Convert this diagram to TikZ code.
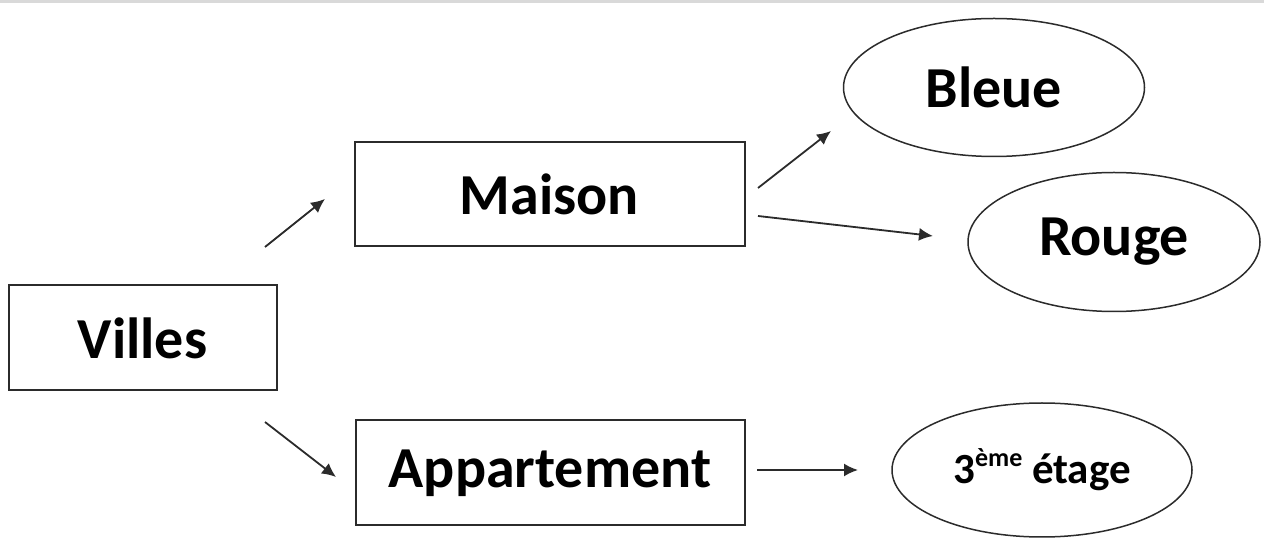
\documentclass[tikz,border=0pt]{standalone}
\usepackage{fontspec}
\setmainfont{Carlito}
\usepackage{tikz}
\usetikzlibrary{arrows.meta,positioning,shapes.geometric}
\usepackage{xcolor}
\definecolor{edge}{HTML}{2B2B2B}
\definecolor{rule}{HTML}{D9D9D9}

\begin{document}
\begin{tikzpicture}[
  x=0.5pt, y=-0.5pt,
  box/.style={draw=edge, line width=1pt, inner sep=0pt, font=\fontsize{29}{34}\selectfont\bfseries},
  oval/.style={ellipse, draw=edge, line width=0.75pt, inner sep=0pt, font=\fontsize{29}{34}\selectfont\bfseries},
  arrow/.style={-{Latex[length=7pt,width=6.5pt]}, line width=0.9pt, draw=edge}
]
\useasboundingbox (0,0) rectangle (1264,539);
\draw[rule, line width=1.5pt] (0,1.5) -- (1264,1.5);

\node[box, minimum width=134pt, minimum height=52.5pt] (villes) at (142.5,338) {Villes};
\node[box, minimum width=195pt, minimum height=52pt] (maison) at (549.5,194.5) {Maison};
\node[box, minimum width=194.5pt, minimum height=52.5pt] (appart) at (550,473) {Appartement};
\node[oval, minimum width=150.5pt, minimum height=69pt] (bleue) at (994,87.5) {Bleue};
\node[oval, minimum width=146pt, minimum height=69.5pt] (rouge) at (1114,242) {Rouge};
\node[oval, minimum width=150pt, minimum height=67pt, font=\fontsize{21.5}{26}\selectfont\bfseries] (etage) at (1042,470) {3\raisebox{0.8ex}{\fontsize{13}{15}\selectfont ème} étage};

% free arrow ends
\coordinate (v-up) at (265,247);
\coordinate (m-in) at (325,199);
\coordinate (v-down) at (265,422);
\coordinate (a-in) at (336,477);
\coordinate (m-up) at (758,188);
\coordinate (b-in) at (831,131);
\coordinate (m-down) at (758,216);
\coordinate (r-in) at (933,236);
\coordinate (a-out) at (757,470);
\coordinate (e-in) at (858,470);

\draw[arrow] (v-up) -- (m-in);
\draw[arrow] (v-down) -- (a-in);
\draw[arrow] (m-up) -- (b-in);
\draw[arrow] (m-down) -- (r-in);
\draw[arrow] (a-out) -- (e-in);
\end{tikzpicture}
\end{document}
